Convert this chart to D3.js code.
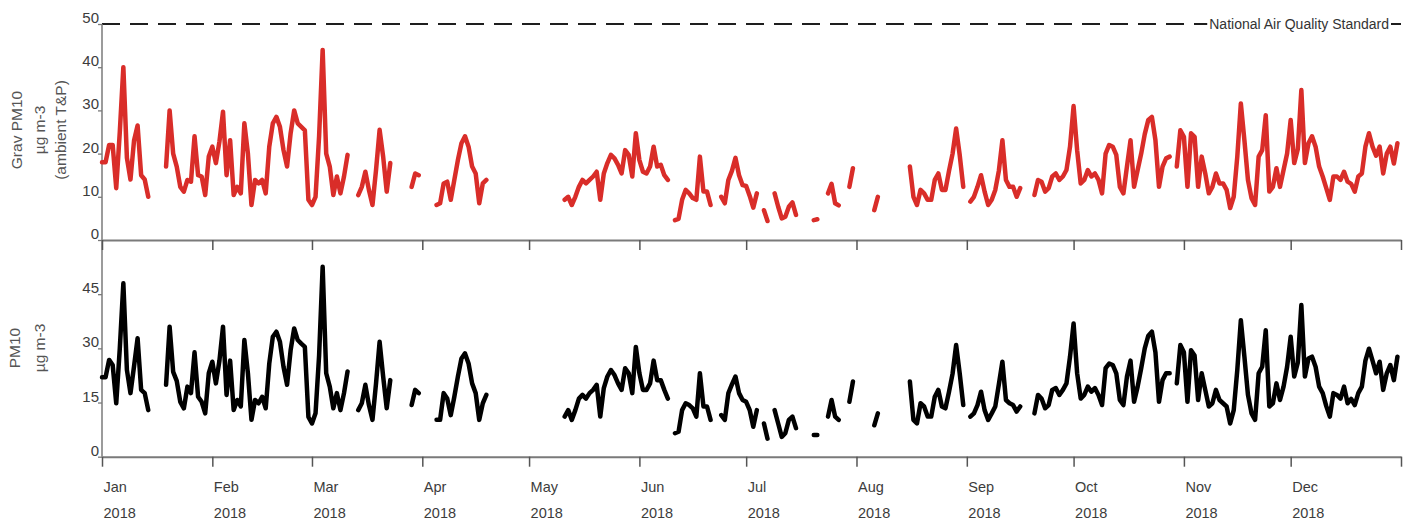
<!DOCTYPE html>
<html>
<head>
<meta charset="utf-8">
<script src="https://cdn.jsdelivr.net/npm/d3@7"></script>
<style>
  html, body { margin: 0; padding: 0; background: #fff; }
  svg { display: block; font-family: "Liberation Sans", Arial, sans-serif; }
</style>
</head>
<body>
<svg id="chart" width="1412" height="523"></svg>
<script>
// Daily gravimetric PM10 (ug m-3, ambient T&P), 1 Jan - 31 Dec 2018; null = no data
const gravPM10 = [
  // Jan
  18, 18, 22, 22, 12, 25, 40, 19, 14, 23, 26.5, 15, 14, 10, null, null, null, null, 17, 30, 20, 17, 12.3, 11.2, 13.9, 13.5, 24, 15, 14.7, 10.4, 19.3,
  // Feb
  21.6, 17.8, 22.8, 29.7, 15, 23.1, 10.4, 12.3, 10.8, 27, 20, 8.1, 13.9, 13.1, 13.9, 10.8, 21.6, 27, 28.5, 26.2, 20.8, 17, 24.7, 30, 27, 26.2, 25.4, 9.3,
  // Mar
  8.1, 10, 24, 44, 20, 17, 10.4, 14.7, 10.8, 14.7, 19.7, null, null, 10.4, 12.3, 15.8, 11.6, 8.1, 16.2, 25.5, 19.3, 11.2, 17.8, null, null, null, null, null, 12.3, 15.4, 15,
  // Apr
  null, null, null, null, 8.1, 8.5, 13.1, 13.5, 9.3, 13.9, 18.5, 22.4, 24, 21.6, 17, 15.4, 8.5, 13.1, 13.9, null, null, null, null, null, null, null, null, null, null, null,
  // May
  null, null, null, null, null, null, null, null, null, null, 9.3, 10, 8.1, 10, 12.3, 13.9, 13.1, 13.9, 14.7, 15.8, 9.3, 15.4, 17.8, 19.7, 18.9, 17.4, 15.4, 20.8, 19.7, 14.7, 24.7,
  // Jun
  18.5, 15.8, 15.4, 17, 21.6, 17, 17.4, 15, 13.9, null, 4.6, 4.9, 9.3, 11.6, 10.8, 9.7, 9.3, 19.3, 11.2, 11.2, 8.1, null, null, 10, 8.5, 13.9, 16, 19, 15, 12.7,
  // Jul
  12.5, 10.2, 7.5, 10.8, null, 6.9, 4.4, null, 10.8, 7.7, 5, 5.4, 7.7, 8.7, 5.8, null, null, null, null, 4.6, 4.8, null, null, 10.8, 13, 8.5, 8, null, null, 12.3, 16.6,
  // Aug
  null, null, null, null, null, 6.9, 10, null, null, null, null, null, null, null, null, 17, 10, 8.1, 11.6, 10.8, 9.3, 9.3, 13.9, 15.4, 11.6, 11.6, 16, 20, 25.8, 19.7, 12.3,
  // Sep
  null, 8.9, 10, 12.3, 15, 11.2, 8.1, 9.3, 11.6, 16, 23.1, 13.9, 12.3, 12.3, 10, 12, null, null, null, 10.4, 13.9, 13.5, 11.2, 12, 14.7, 15.4, 13.9, 14.7, 16.2, 21.6,
  // Oct
  31, 20.8, 13.1, 13.9, 16.2, 14.7, 15.4, 13.9, 10.8, 20, 22, 21.6, 19.7, 12.3, 10.8, 17, 23.1, 12.3, 16.2, 20, 24.5, 27.8, 28.5, 23.1, 12.3, 17, 18.9, 19.3, null, 17, 25.4,
  // Nov
  23.9, 12.3, 24.7, 23.9, 12.3, 19.3, 15.4, 10.8, 12.3, 15.4, 13.1, 13.1, 11.6, 7.4, 10, 19.3, 31.6, 23.1, 13.9, 9.7, 8.1, 19.3, 20.8, 28.9, 11.2, 12.3, 16.6, 12.3, 16.2, 20,
  // Dec
  27.8, 17.8, 21, 34.7, 17.8, 22.4, 24, 21.6, 17, 14.7, 12, 9.3, 14.7, 14.7, 13.9, 15.8, 13.5, 13, 11.2, 14.7, 15.4, 21.6, 24.7, 21.6, 19.5, 21.6, 15.4, 20, 21.6, 17.7, 22.4
];

// Daily PM10 (ug m-3), same days
const pm10 = [
  // Jan
  22, 22, 26.8, 25.4, 14.8, 30, 48, 24, 17.6, 25, 32.8, 18.5, 17.6, 12.9, null, null, null, null, 19.9, 36, 23.5, 21, 15.2, 13.4, 19.4, 17.6, 28.9, 16.6, 15.2, 12, 23.1,
  // Feb
  26.3, 20.3, 26.6, 36, 17.1, 26.6, 12.9, 15.7, 13.9, 32.3, 23.1, 10.2, 15.7, 14.8, 16.6, 13.4, 25.8, 33.2, 34.6, 31.8, 24.9, 19.9, 29.5, 35.5, 32.3, 31.3, 30.4, 11,
  // Mar
  9.2, 12, 28, 52.6, 23.1, 19.4, 13.4, 17.6, 12.9, 17.6, 23.6, null, null, 12.9, 14.8, 19.9, 14.3, 10.2, 20.3, 31.8, 22.2, 13.4, 21.2, null, null, null, null, null, 14.3, 18.5, 17.6,
  // Apr
  null, null, null, null, 10.2, 10.2, 17.6, 16.1, 11.5, 16.6, 22.2, 27.2, 28.6, 25.8, 20.3, 17.6, 10.2, 14.8, 17.1, null, null, null, null, null, null, null, null, null, null, null,
  // May
  null, null, null, null, null, null, null, null, null, null, 11.1, 12.9, 10.2, 12.9, 16.1, 17.1, 16.1, 17.6, 18.5, 19.9, 11.1, 19, 22.2, 24, 22.6, 20.3, 18.5, 24.5, 23.1, 17.6, 30.4,
  // Jun
  23.1, 18.5, 18.5, 20.3, 26.6, 21.2, 21.2, 18.5, 16.1, null, 6.5, 6.9, 12.9, 14.8, 14.3, 13.4, 11.1, 23.1, 13.9, 13.9, 10.2, null, null, 11.5, 10.2, 17.6, 20, 22.2, 17.6, 15.7,
  // Jul
  15.2, 12.9, 8.3, 12.9, null, 9.2, 5, null, 12.9, 9.2, 5.5, 6.5, 10.2, 11.1, 7.9, null, null, null, null, 6, 6, null, null, 11.1, 15.7, 11.1, 10.2, null, null, 15.2, 20.8,
  // Aug
  null, null, null, null, null, 8.7, 12, null, null, null, null, null, null, null, null, 20.8, 10.2, 9.2, 14.8, 13.9, 11.1, 11.1, 16.6, 18.5, 13.9, 13.4, 18, 23, 30.9, 23.1, 14.3,
  // Sep
  null, 11.1, 12, 14.3, 18, 12.9, 10.2, 12, 13.9, 20, 26.3, 15.7, 14.8, 14.3, 12.5, 13.9, null, null, null, 12, 17.1, 16.1, 13.4, 14.3, 18.5, 19, 17.1, 18.5, 20.3, 27.7,
  // Oct
  36.9, 23.1, 16.1, 17.1, 19.4, 18, 19, 17.1, 14.3, 24.5, 25.8, 25.4, 23.1, 15.7, 14.3, 22.2, 26.6, 15.2, 19.4, 24.5, 30, 33.5, 34.6, 28.9, 15.2, 21.2, 23.1, 23.1, null, 20.3, 30.9,
  // Nov
  28.9, 15.2, 29.5, 28, 15.7, 23.1, 18.5, 13.9, 14.8, 18.5, 15.7, 14.8, 13.9, 9.2, 12.9, 24, 37.8, 27.7, 17.1, 12, 10.2, 23.1, 24.9, 35, 13.9, 14.8, 20.3, 15.7, 19.4, 24.9,
  // Dec
  33.2, 22.2, 26, 42, 22.2, 27.2, 27.7, 24.9, 19.4, 17.6, 14, 11.1, 17.6, 17.1, 16.1, 19.4, 14.8, 16, 14.3, 17.6, 19.4, 26.6, 29.9, 26.6, 23.1, 26.3, 18.5, 23.1, 25.4, 21.2, 27.7
];

const gravTicks = [0, 10, 20, 30, 40, 50];
const pm10Ticks = [0, 15, 30, 45];
const standardValue = 50;
const standardLabel = "National Air Quality Standard";
const gravTitle = ["Grav PM10", "\u00b5g m-3", "(ambient T&P)"];
const pm10Title = ["PM10", "\u00b5g m-3"];

const startDay = new Date(2018, 0, 1);
const endDay = new Date(2019, 0, 1);

const svg = d3.select("#chart");
const left = 102, right = 1401;
const topPanel = { top: 24, bottom: 240 };
const botPanel = { top: 240, bottom: 456.7 };

const x = d3.scaleTime().domain([startDay, endDay]).range([left, right]);
const yGrav = d3.scaleLinear().domain([0, 50]).range([topPanel.bottom, topPanel.top]);
const yPM = d3.scaleLinear().domain([0, 60]).range([botPanel.bottom, botPanel.top]);

const toPoints = arr => arr.map((v, i) => ({ date: d3.timeDay.offset(startDay, i), v }));

const axisColor = "#7a7a7a";
const textColor = "#3c3c3c";

// ---- National Air Quality Standard line ----
svg.append("line")
  .attr("x1", left).attr("x2", right)
  .attr("y1", yGrav(standardValue)).attr("y2", yGrav(standardValue))
  .attr("stroke", "#1e1e1e").attr("stroke-width", 1.8)
  .attr("stroke-dasharray", "18,10");

const stdText = svg.append("text")
  .attr("x", 1389).attr("y", yGrav(standardValue) + 5)
  .attr("text-anchor", "end")
  .attr("font-size", 14)
  .attr("fill", "#333")
  .text(standardLabel);
const bb = stdText.node().getBBox();
svg.insert("rect", "text")
  .attr("x", bb.x - 2).attr("y", bb.y)
  .attr("width", bb.width + 4).attr("height", bb.height)
  .attr("fill", "#fff");

// ---- Y axes ----
function yAxis(scale, ticks, panel) {
  const g = svg.append("g").attr("transform", `translate(${left},0)`)
    .call(d3.axisLeft(scale).tickValues(ticks).tickSize(4).tickSizeOuter(0).tickFormat(d3.format("d")));
  g.select(".domain").remove();
  g.selectAll(".tick line").attr("stroke", axisColor).attr("stroke-width", 1.3);
  g.selectAll(".tick text")
    .attr("x", -3).attr("dy", -1.5)
    .attr("font-size", 15).attr("fill", textColor)
    .attr("font-family", "Liberation Sans, Arial, sans-serif");
  svg.append("line")
    .attr("x1", left).attr("x2", left)
    .attr("y1", panel.top).attr("y2", panel.bottom)
    .attr("stroke", axisColor).attr("stroke-width", 1.5);
}
yAxis(yGrav, gravTicks, topPanel);
yAxis(yPM, pm10Ticks, botPanel);

// ---- X axes (month ticks) ----
function xAxis(yPos, withLabels) {
  const g = svg.append("g").attr("transform", `translate(0,${yPos})`)
    .call(d3.axisBottom(x).ticks(d3.timeMonth.every(1)).tickSize(10).tickSizeOuter(0).tickFormat(""));
  g.select(".domain").attr("stroke", axisColor).attr("stroke-width", 2);
  g.selectAll(".tick line").attr("stroke", "#555").attr("stroke-width", 1.5);
  if (withLabels) {
    g.selectAll(".tick").each(function (d) {
      if (+d >= +endDay) return;
      const t = d3.select(this);
      t.append("text").attr("x", 1).attr("y", 35).attr("text-anchor", "start")
        .attr("font-size", 14.5).attr("fill", textColor).text(d3.timeFormat("%b")(d));
      t.append("text").attr("x", 1).attr("y", 61.5).attr("text-anchor", "start")
        .attr("font-size", 14.5).attr("fill", textColor).text(d3.timeFormat("%Y")(d));
    });
  }
}
xAxis(topPanel.bottom, false);
xAxis(botPanel.bottom, true);

// ---- Axis titles ----
function yTitle(lines, xs, cy) {
  lines.forEach((s, i) => {
    svg.append("text")
      .attr("transform", `translate(${xs[i]},${cy}) rotate(-90)`)
      .attr("text-anchor", "middle")
      .attr("font-size", 15.5).attr("fill", "#555")
      .text(s);
  });
}
yTitle(gravTitle, [22, 45, 66], 130);
yTitle(pm10Title, [20, 45], 348);

// ---- Series lines ----
function series(arr, scale, color) {
  const line = d3.line()
    .defined(d => d.v != null)
    .x(d => x(d.date))
    .y(d => scale(d.v));
  svg.append("path")
    .datum(toPoints(arr))
    .attr("fill", "none")
    .attr("stroke", color)
    .attr("stroke-width", 4.5)
    .attr("stroke-linejoin", "round")
    .attr("stroke-linecap", "round")
    .attr("d", line);
}
series(gravPM10, yGrav, "#d92d29");
series(pm10, yPM, "#000");
</script>
</body>
</html>
